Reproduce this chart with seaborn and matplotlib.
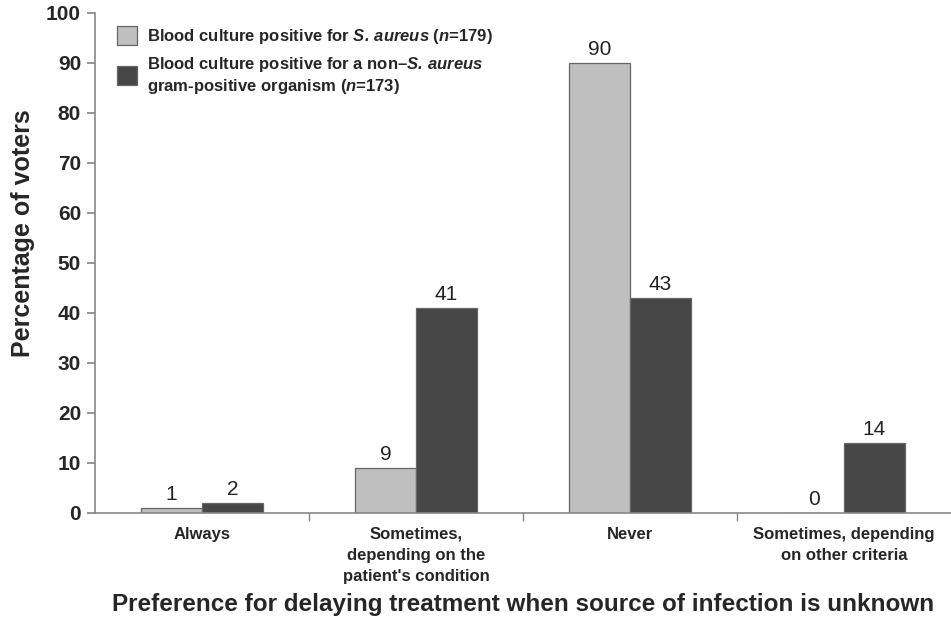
import numpy as np
import pandas as pd
import seaborn as sns
import matplotlib
matplotlib.use('Agg')
from matplotlib import pyplot as plt

sns.set_theme(style='white')
plt.rcParams['font.family'] = ['Liberation Sans', 'DejaVu Sans']
plt.rcParams['mathtext.fontset'] = 'custom'
plt.rcParams['mathtext.bfit'] = 'Liberation Sans:bold:italic'
plt.rcParams['mathtext.it'] = 'Liberation Sans:italic'
plt.rcParams['mathtext.rm'] = 'Liberation Sans'
plt.rcParams['mathtext.bf'] = 'Liberation Sans:bold'

categories = ['Always', 'Sometimes,\ndepending on the\npatient\'s condition',
              'Never', 'Sometimes, depending\non other criteria']
saureus = [1, 9, 90, 0]
non_saureus = [2, 41, 43, 14]
series = ['Blood culture positive for $\\mathbfit{S.\\,aureus}$ ($\\mathbfit{n}$=179)',
          'Blood culture positive for a non\u2013$\\mathbfit{S.\\,aureus}$\n'
          'gram-positive organism ($\\mathbfit{n}$=173)']
colors = ['#bfbfbf', '#474747']

df = pd.DataFrame({
    'category': categories * 2,
    'value': saureus + non_saureus,
    'series': [series[0]] * 4 + [series[1]] * 4,
})

fig = plt.figure(figsize=(9.51, 6.2), dpi=100)
ax = fig.add_axes([95 / 951, 1 - 513 / 620, 856 / 951, 500 / 620])

sns.barplot(data=df, x='category', y='value', hue='series', order=categories,
            hue_order=series, palette=colors, width=0.57, edgecolor='#666666',
            linewidth=0.9, ax=ax, saturation=1)

for c in ax.containers:
    ax.bar_label(c, fmt='%d', padding=3, fontsize=15, color='#222222')

ax.set_ylim(0, 100)
ax.set_xlim(-0.5, 3.5)
ax.set_yticks(range(0, 101, 10))
ax.tick_params(axis='y', direction='out', length=6, color='#888888',
               left=True, labelsize=15, pad=4)
for t in ax.get_yticklabels():
    t.set_fontweight('bold')
ax.tick_params(axis='x', length=0, labelsize=12, pad=10)
for t in ax.get_xticklabels():
    t.set_fontweight('bold')
    t.set_linespacing(1.5)
ax.set_xticks([0.5, 1.5, 2.5], minor=True)
ax.tick_params(axis='x', which='minor', direction='out', length=6,
               color='#888888', bottom=True)

for s in ['top', 'right']:
    ax.spines[s].set_visible(False)
for s in ['left', 'bottom']:
    ax.spines[s].set_color('#888888')
    ax.spines[s].set_linewidth(1.2)

ax.set_ylabel('Percentage of voters', fontsize=18, fontweight='bold')
ax.yaxis.set_label_coords(-60 / 856, 0.56)
ax.set_xlabel('Preference for delaying treatment when source of infection is unknown',
              fontsize=17.5, fontweight='bold')
ax.xaxis.set_label_coords(0.5, -80 / 500)

leg = ax.legend(loc='upper left', bbox_to_anchor=(0.008, 1.005), frameon=False,
                prop={'weight': 'bold', 'size': 12}, handlelength=1.2,
                handleheight=1.4, handletextpad=0.6, labelspacing=0.55)
for p in leg.get_patches():
    p.set_edgecolor('#666666')

fig.savefig('out.png', dpi=100)
